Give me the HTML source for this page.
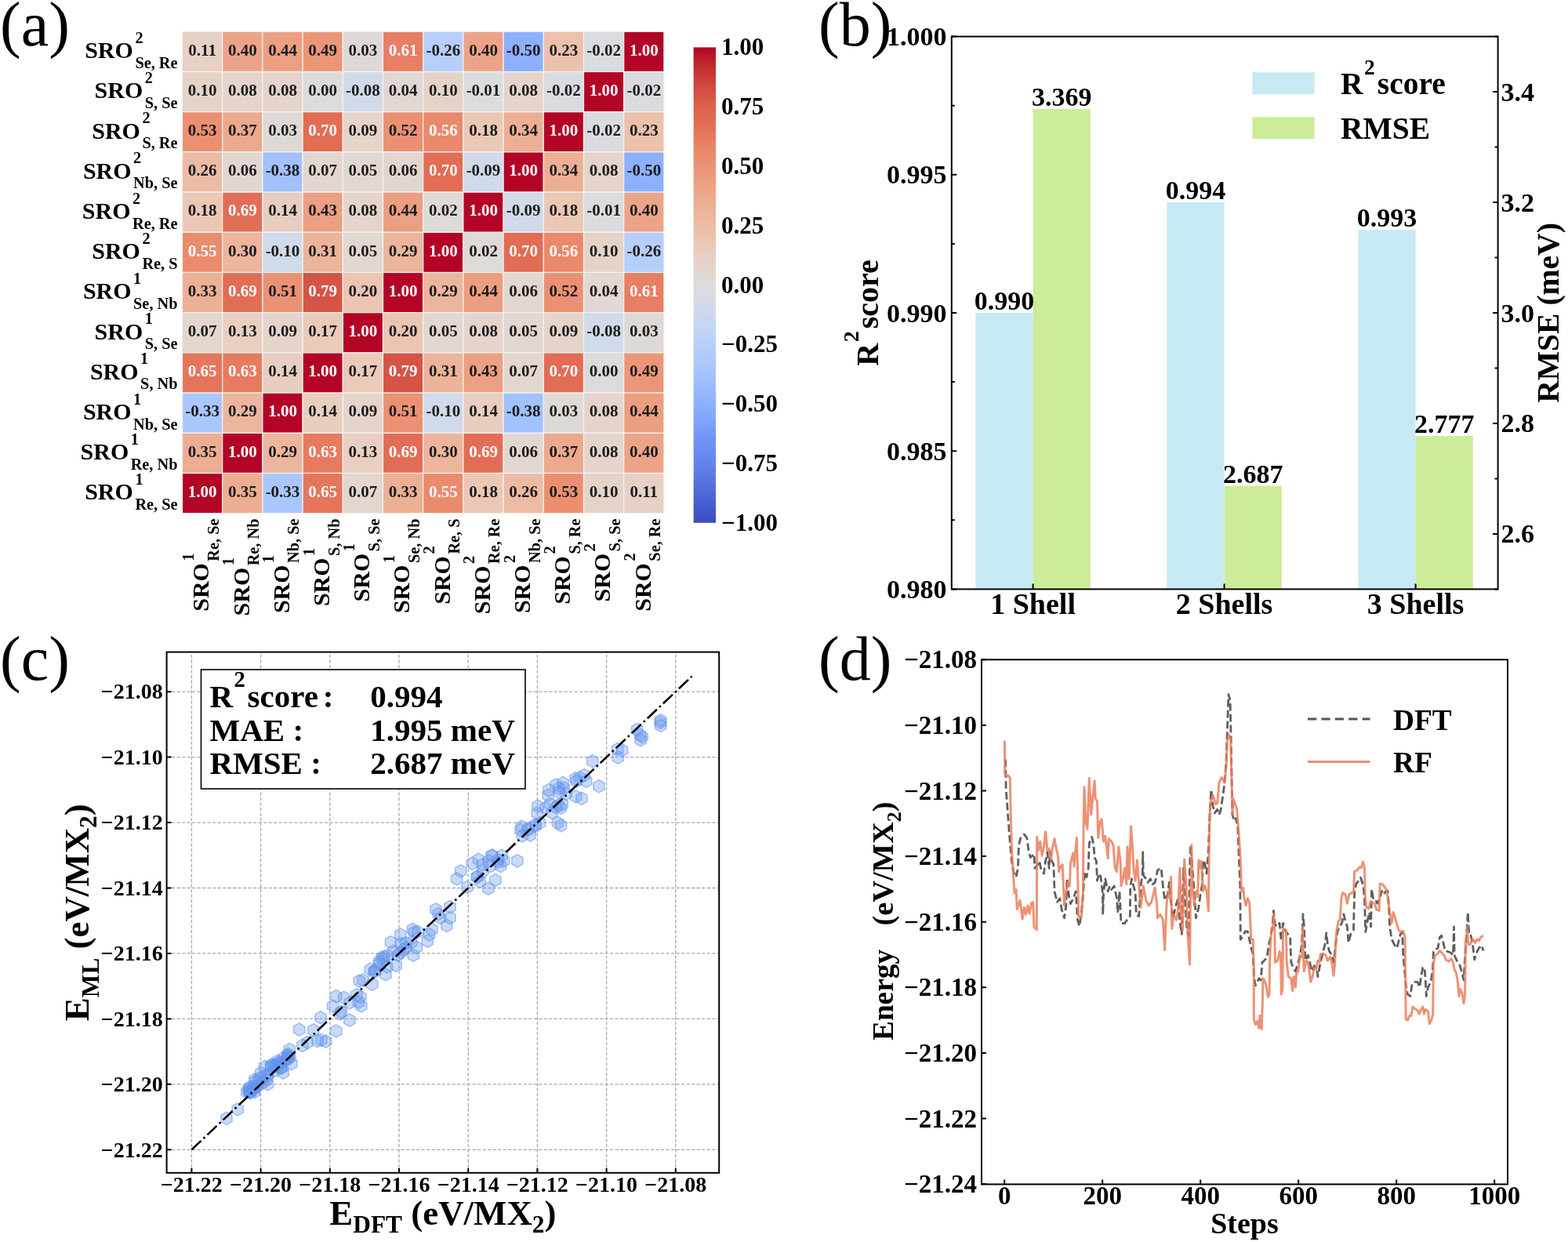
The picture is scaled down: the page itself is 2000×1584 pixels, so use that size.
<!DOCTYPE html>
<html lang="en"><head><meta charset="utf-8"><title>Figure</title>
<style>
html,body{margin:0;padding:0;background:#fff;}
body{width:2000px;height:1584px;overflow:hidden;}
svg{display:block;font-family:"Liberation Serif",serif;font-weight:bold;fill:#000;}
</style></head><body>
<svg width="2000" height="1584" viewBox="0 0 2000 1584">
<rect x="0" y="0" width="2000" height="1584" fill="#ffffff"/>
<g id="pa">
<text x="0" y="58" font-size="80" font-weight="normal">(a)</text>
<g stroke="#f4f1ee" stroke-width="1.2">
<rect x="232.5" y="40.3" width="51.2" height="51.2" fill="#e7d1c5"/>
<rect x="283.7" y="40.3" width="51.2" height="51.2" fill="#eca488"/>
<rect x="334.9" y="40.3" width="51.2" height="51.2" fill="#ec9e80"/>
<rect x="386.1" y="40.3" width="51.2" height="51.2" fill="#ec9678"/>
<rect x="437.3" y="40.3" width="51.2" height="51.2" fill="#dfd9d6"/>
<rect x="488.5" y="40.3" width="51.2" height="51.2" fill="#e87e63"/>
<rect x="539.7" y="40.3" width="51.2" height="51.2" fill="#b6cefa"/>
<rect x="590.9" y="40.3" width="51.2" height="51.2" fill="#eca488"/>
<rect x="642.1" y="40.3" width="51.2" height="51.2" fill="#8db0fe"/>
<rect x="693.3" y="40.3" width="51.2" height="51.2" fill="#ecc0ab"/>
<rect x="744.5" y="40.3" width="51.2" height="51.2" fill="#d9dbdf"/>
<rect x="795.7" y="40.3" width="51.2" height="51.2" fill="#b40426"/>
<rect x="232.5" y="91.5" width="51.2" height="51.2" fill="#e6d3c8"/>
<rect x="283.7" y="91.5" width="51.2" height="51.2" fill="#e5d4cb"/>
<rect x="334.9" y="91.5" width="51.2" height="51.2" fill="#e5d4cb"/>
<rect x="386.1" y="91.5" width="51.2" height="51.2" fill="#dcdbdb"/>
<rect x="437.3" y="91.5" width="51.2" height="51.2" fill="#d1dae8"/>
<rect x="488.5" y="91.5" width="51.2" height="51.2" fill="#e1d8d3"/>
<rect x="539.7" y="91.5" width="51.2" height="51.2" fill="#e6d3c8"/>
<rect x="590.9" y="91.5" width="51.2" height="51.2" fill="#dadcde"/>
<rect x="642.1" y="91.5" width="51.2" height="51.2" fill="#e5d4cb"/>
<rect x="693.3" y="91.5" width="51.2" height="51.2" fill="#d9dbdf"/>
<rect x="744.5" y="91.5" width="51.2" height="51.2" fill="#b40426"/>
<rect x="795.7" y="91.5" width="51.2" height="51.2" fill="#d9dbdf"/>
<rect x="232.5" y="142.7" width="51.2" height="51.2" fill="#eb8f71"/>
<rect x="283.7" y="142.7" width="51.2" height="51.2" fill="#eca98e"/>
<rect x="334.9" y="142.7" width="51.2" height="51.2" fill="#dfd9d6"/>
<rect x="386.1" y="142.7" width="51.2" height="51.2" fill="#e26c54"/>
<rect x="437.3" y="142.7" width="51.2" height="51.2" fill="#e5d4ca"/>
<rect x="488.5" y="142.7" width="51.2" height="51.2" fill="#eb9073"/>
<rect x="539.7" y="142.7" width="51.2" height="51.2" fill="#ea896c"/>
<rect x="590.9" y="142.7" width="51.2" height="51.2" fill="#ebc8b6"/>
<rect x="642.1" y="142.7" width="51.2" height="51.2" fill="#ecaf94"/>
<rect x="693.3" y="142.7" width="51.2" height="51.2" fill="#b40426"/>
<rect x="744.5" y="142.7" width="51.2" height="51.2" fill="#d9dbdf"/>
<rect x="795.7" y="142.7" width="51.2" height="51.2" fill="#ecc0ab"/>
<rect x="232.5" y="193.9" width="51.2" height="51.2" fill="#ecbba4"/>
<rect x="283.7" y="193.9" width="51.2" height="51.2" fill="#e2d7d0"/>
<rect x="334.9" y="193.9" width="51.2" height="51.2" fill="#a2c1ff"/>
<rect x="386.1" y="193.9" width="51.2" height="51.2" fill="#e3d6cf"/>
<rect x="437.3" y="193.9" width="51.2" height="51.2" fill="#e2d8d2"/>
<rect x="488.5" y="193.9" width="51.2" height="51.2" fill="#e2d7d0"/>
<rect x="539.7" y="193.9" width="51.2" height="51.2" fill="#e26c54"/>
<rect x="590.9" y="193.9" width="51.2" height="51.2" fill="#d0dae9"/>
<rect x="642.1" y="193.9" width="51.2" height="51.2" fill="#b40426"/>
<rect x="693.3" y="193.9" width="51.2" height="51.2" fill="#ecaf94"/>
<rect x="744.5" y="193.9" width="51.2" height="51.2" fill="#e5d4cb"/>
<rect x="795.7" y="193.9" width="51.2" height="51.2" fill="#8db0fe"/>
<rect x="232.5" y="245.1" width="51.2" height="51.2" fill="#ebc8b6"/>
<rect x="283.7" y="245.1" width="51.2" height="51.2" fill="#e26d56"/>
<rect x="334.9" y="245.1" width="51.2" height="51.2" fill="#e8cec0"/>
<rect x="386.1" y="245.1" width="51.2" height="51.2" fill="#ec9f82"/>
<rect x="437.3" y="245.1" width="51.2" height="51.2" fill="#e5d4cb"/>
<rect x="488.5" y="245.1" width="51.2" height="51.2" fill="#ec9e80"/>
<rect x="539.7" y="245.1" width="51.2" height="51.2" fill="#dedad8"/>
<rect x="590.9" y="245.1" width="51.2" height="51.2" fill="#b40426"/>
<rect x="642.1" y="245.1" width="51.2" height="51.2" fill="#d0dae9"/>
<rect x="693.3" y="245.1" width="51.2" height="51.2" fill="#ebc8b6"/>
<rect x="744.5" y="245.1" width="51.2" height="51.2" fill="#dadcde"/>
<rect x="795.7" y="245.1" width="51.2" height="51.2" fill="#eca488"/>
<rect x="232.5" y="296.3" width="51.2" height="51.2" fill="#ea8b6d"/>
<rect x="283.7" y="296.3" width="51.2" height="51.2" fill="#ecb59c"/>
<rect x="334.9" y="296.3" width="51.2" height="51.2" fill="#cfdaea"/>
<rect x="386.1" y="296.3" width="51.2" height="51.2" fill="#ecb49a"/>
<rect x="437.3" y="296.3" width="51.2" height="51.2" fill="#e2d8d2"/>
<rect x="488.5" y="296.3" width="51.2" height="51.2" fill="#ecb69e"/>
<rect x="539.7" y="296.3" width="51.2" height="51.2" fill="#b40426"/>
<rect x="590.9" y="296.3" width="51.2" height="51.2" fill="#dedad8"/>
<rect x="642.1" y="296.3" width="51.2" height="51.2" fill="#e26c54"/>
<rect x="693.3" y="296.3" width="51.2" height="51.2" fill="#ea896c"/>
<rect x="744.5" y="296.3" width="51.2" height="51.2" fill="#e6d3c8"/>
<rect x="795.7" y="296.3" width="51.2" height="51.2" fill="#b6cefa"/>
<rect x="232.5" y="347.5" width="51.2" height="51.2" fill="#ecb095"/>
<rect x="283.7" y="347.5" width="51.2" height="51.2" fill="#e26d56"/>
<rect x="334.9" y="347.5" width="51.2" height="51.2" fill="#eb9274"/>
<rect x="386.1" y="347.5" width="51.2" height="51.2" fill="#d65445"/>
<rect x="437.3" y="347.5" width="51.2" height="51.2" fill="#ebc5b2"/>
<rect x="488.5" y="347.5" width="51.2" height="51.2" fill="#b40426"/>
<rect x="539.7" y="347.5" width="51.2" height="51.2" fill="#ecb69e"/>
<rect x="590.9" y="347.5" width="51.2" height="51.2" fill="#ec9e80"/>
<rect x="642.1" y="347.5" width="51.2" height="51.2" fill="#e2d7d0"/>
<rect x="693.3" y="347.5" width="51.2" height="51.2" fill="#eb9073"/>
<rect x="744.5" y="347.5" width="51.2" height="51.2" fill="#e1d8d3"/>
<rect x="795.7" y="347.5" width="51.2" height="51.2" fill="#e87e63"/>
<rect x="232.5" y="398.7" width="51.2" height="51.2" fill="#e3d6cf"/>
<rect x="283.7" y="398.7" width="51.2" height="51.2" fill="#e8cfc1"/>
<rect x="334.9" y="398.7" width="51.2" height="51.2" fill="#e5d4ca"/>
<rect x="386.1" y="398.7" width="51.2" height="51.2" fill="#eacab9"/>
<rect x="437.3" y="398.7" width="51.2" height="51.2" fill="#b40426"/>
<rect x="488.5" y="398.7" width="51.2" height="51.2" fill="#ebc5b2"/>
<rect x="539.7" y="398.7" width="51.2" height="51.2" fill="#e2d8d2"/>
<rect x="590.9" y="398.7" width="51.2" height="51.2" fill="#e5d4cb"/>
<rect x="642.1" y="398.7" width="51.2" height="51.2" fill="#e2d8d2"/>
<rect x="693.3" y="398.7" width="51.2" height="51.2" fill="#e5d4ca"/>
<rect x="744.5" y="398.7" width="51.2" height="51.2" fill="#d1dae8"/>
<rect x="795.7" y="398.7" width="51.2" height="51.2" fill="#dfd9d6"/>
<rect x="232.5" y="449.9" width="51.2" height="51.2" fill="#e5765c"/>
<rect x="283.7" y="449.9" width="51.2" height="51.2" fill="#e77b60"/>
<rect x="334.9" y="449.9" width="51.2" height="51.2" fill="#e8cec0"/>
<rect x="386.1" y="449.9" width="51.2" height="51.2" fill="#b40426"/>
<rect x="437.3" y="449.9" width="51.2" height="51.2" fill="#eacab9"/>
<rect x="488.5" y="449.9" width="51.2" height="51.2" fill="#d65445"/>
<rect x="539.7" y="449.9" width="51.2" height="51.2" fill="#ecb49a"/>
<rect x="590.9" y="449.9" width="51.2" height="51.2" fill="#ec9f82"/>
<rect x="642.1" y="449.9" width="51.2" height="51.2" fill="#e3d6cf"/>
<rect x="693.3" y="449.9" width="51.2" height="51.2" fill="#e26c54"/>
<rect x="744.5" y="449.9" width="51.2" height="51.2" fill="#dcdbdb"/>
<rect x="795.7" y="449.9" width="51.2" height="51.2" fill="#ec9678"/>
<rect x="232.5" y="501.1" width="51.2" height="51.2" fill="#aac7fd"/>
<rect x="283.7" y="501.1" width="51.2" height="51.2" fill="#ecb69e"/>
<rect x="334.9" y="501.1" width="51.2" height="51.2" fill="#b40426"/>
<rect x="386.1" y="501.1" width="51.2" height="51.2" fill="#e8cec0"/>
<rect x="437.3" y="501.1" width="51.2" height="51.2" fill="#e5d4ca"/>
<rect x="488.5" y="501.1" width="51.2" height="51.2" fill="#eb9274"/>
<rect x="539.7" y="501.1" width="51.2" height="51.2" fill="#cfdaea"/>
<rect x="590.9" y="501.1" width="51.2" height="51.2" fill="#e8cec0"/>
<rect x="642.1" y="501.1" width="51.2" height="51.2" fill="#a2c1ff"/>
<rect x="693.3" y="501.1" width="51.2" height="51.2" fill="#dfd9d6"/>
<rect x="744.5" y="501.1" width="51.2" height="51.2" fill="#e5d4cb"/>
<rect x="795.7" y="501.1" width="51.2" height="51.2" fill="#ec9e80"/>
<rect x="232.5" y="552.3" width="51.2" height="51.2" fill="#ecad92"/>
<rect x="283.7" y="552.3" width="51.2" height="51.2" fill="#b40426"/>
<rect x="334.9" y="552.3" width="51.2" height="51.2" fill="#ecb69e"/>
<rect x="386.1" y="552.3" width="51.2" height="51.2" fill="#e77b60"/>
<rect x="437.3" y="552.3" width="51.2" height="51.2" fill="#e8cfc1"/>
<rect x="488.5" y="552.3" width="51.2" height="51.2" fill="#e26d56"/>
<rect x="539.7" y="552.3" width="51.2" height="51.2" fill="#ecb59c"/>
<rect x="590.9" y="552.3" width="51.2" height="51.2" fill="#e26d56"/>
<rect x="642.1" y="552.3" width="51.2" height="51.2" fill="#e2d7d0"/>
<rect x="693.3" y="552.3" width="51.2" height="51.2" fill="#eca98e"/>
<rect x="744.5" y="552.3" width="51.2" height="51.2" fill="#e5d4cb"/>
<rect x="795.7" y="552.3" width="51.2" height="51.2" fill="#eca488"/>
<rect x="232.5" y="603.5" width="51.2" height="51.2" fill="#b40426"/>
<rect x="283.7" y="603.5" width="51.2" height="51.2" fill="#ecad92"/>
<rect x="334.9" y="603.5" width="51.2" height="51.2" fill="#aac7fd"/>
<rect x="386.1" y="603.5" width="51.2" height="51.2" fill="#e5765c"/>
<rect x="437.3" y="603.5" width="51.2" height="51.2" fill="#e3d6cf"/>
<rect x="488.5" y="603.5" width="51.2" height="51.2" fill="#ecb095"/>
<rect x="539.7" y="603.5" width="51.2" height="51.2" fill="#ea8b6d"/>
<rect x="590.9" y="603.5" width="51.2" height="51.2" fill="#ebc8b6"/>
<rect x="642.1" y="603.5" width="51.2" height="51.2" fill="#ecbba4"/>
<rect x="693.3" y="603.5" width="51.2" height="51.2" fill="#eb8f71"/>
<rect x="744.5" y="603.5" width="51.2" height="51.2" fill="#e6d3c8"/>
<rect x="795.7" y="603.5" width="51.2" height="51.2" fill="#e7d1c5"/>
</g>
<g font-size="21" text-anchor="middle">
<text x="258.1" y="70.6" fill="#1a1a1a">0.11</text>
<text x="309.3" y="70.6" fill="#1a1a1a">0.40</text>
<text x="360.5" y="70.6" fill="#1a1a1a">0.44</text>
<text x="411.7" y="70.6" fill="#1a1a1a">0.49</text>
<text x="462.9" y="70.6" fill="#1a1a1a">0.03</text>
<text x="514.1" y="70.6" fill="#ffffff">0.61</text>
<text x="565.3" y="70.6" fill="#1a1a1a">-0.26</text>
<text x="616.5" y="70.6" fill="#1a1a1a">0.40</text>
<text x="667.7" y="70.6" fill="#1a1a1a">-0.50</text>
<text x="718.9" y="70.6" fill="#1a1a1a">0.23</text>
<text x="770.1" y="70.6" fill="#1a1a1a">-0.02</text>
<text x="821.3" y="70.6" fill="#ffffff">1.00</text>
<text x="258.1" y="121.8" fill="#1a1a1a">0.10</text>
<text x="309.3" y="121.8" fill="#1a1a1a">0.08</text>
<text x="360.5" y="121.8" fill="#1a1a1a">0.08</text>
<text x="411.7" y="121.8" fill="#1a1a1a">0.00</text>
<text x="462.9" y="121.8" fill="#1a1a1a">-0.08</text>
<text x="514.1" y="121.8" fill="#1a1a1a">0.04</text>
<text x="565.3" y="121.8" fill="#1a1a1a">0.10</text>
<text x="616.5" y="121.8" fill="#1a1a1a">-0.01</text>
<text x="667.7" y="121.8" fill="#1a1a1a">0.08</text>
<text x="718.9" y="121.8" fill="#1a1a1a">-0.02</text>
<text x="770.1" y="121.8" fill="#ffffff">1.00</text>
<text x="821.3" y="121.8" fill="#1a1a1a">-0.02</text>
<text x="258.1" y="173" fill="#1a1a1a">0.53</text>
<text x="309.3" y="173" fill="#1a1a1a">0.37</text>
<text x="360.5" y="173" fill="#1a1a1a">0.03</text>
<text x="411.7" y="173" fill="#ffffff">0.70</text>
<text x="462.9" y="173" fill="#1a1a1a">0.09</text>
<text x="514.1" y="173" fill="#1a1a1a">0.52</text>
<text x="565.3" y="173" fill="#ffffff">0.56</text>
<text x="616.5" y="173" fill="#1a1a1a">0.18</text>
<text x="667.7" y="173" fill="#1a1a1a">0.34</text>
<text x="718.9" y="173" fill="#ffffff">1.00</text>
<text x="770.1" y="173" fill="#1a1a1a">-0.02</text>
<text x="821.3" y="173" fill="#1a1a1a">0.23</text>
<text x="258.1" y="224.2" fill="#1a1a1a">0.26</text>
<text x="309.3" y="224.2" fill="#1a1a1a">0.06</text>
<text x="360.5" y="224.2" fill="#1a1a1a">-0.38</text>
<text x="411.7" y="224.2" fill="#1a1a1a">0.07</text>
<text x="462.9" y="224.2" fill="#1a1a1a">0.05</text>
<text x="514.1" y="224.2" fill="#1a1a1a">0.06</text>
<text x="565.3" y="224.2" fill="#ffffff">0.70</text>
<text x="616.5" y="224.2" fill="#1a1a1a">-0.09</text>
<text x="667.7" y="224.2" fill="#ffffff">1.00</text>
<text x="718.9" y="224.2" fill="#1a1a1a">0.34</text>
<text x="770.1" y="224.2" fill="#1a1a1a">0.08</text>
<text x="821.3" y="224.2" fill="#1a1a1a">-0.50</text>
<text x="258.1" y="275.4" fill="#1a1a1a">0.18</text>
<text x="309.3" y="275.4" fill="#ffffff">0.69</text>
<text x="360.5" y="275.4" fill="#1a1a1a">0.14</text>
<text x="411.7" y="275.4" fill="#1a1a1a">0.43</text>
<text x="462.9" y="275.4" fill="#1a1a1a">0.08</text>
<text x="514.1" y="275.4" fill="#1a1a1a">0.44</text>
<text x="565.3" y="275.4" fill="#1a1a1a">0.02</text>
<text x="616.5" y="275.4" fill="#ffffff">1.00</text>
<text x="667.7" y="275.4" fill="#1a1a1a">-0.09</text>
<text x="718.9" y="275.4" fill="#1a1a1a">0.18</text>
<text x="770.1" y="275.4" fill="#1a1a1a">-0.01</text>
<text x="821.3" y="275.4" fill="#1a1a1a">0.40</text>
<text x="258.1" y="326.6" fill="#ffffff">0.55</text>
<text x="309.3" y="326.6" fill="#1a1a1a">0.30</text>
<text x="360.5" y="326.6" fill="#1a1a1a">-0.10</text>
<text x="411.7" y="326.6" fill="#1a1a1a">0.31</text>
<text x="462.9" y="326.6" fill="#1a1a1a">0.05</text>
<text x="514.1" y="326.6" fill="#1a1a1a">0.29</text>
<text x="565.3" y="326.6" fill="#ffffff">1.00</text>
<text x="616.5" y="326.6" fill="#1a1a1a">0.02</text>
<text x="667.7" y="326.6" fill="#ffffff">0.70</text>
<text x="718.9" y="326.6" fill="#ffffff">0.56</text>
<text x="770.1" y="326.6" fill="#1a1a1a">0.10</text>
<text x="821.3" y="326.6" fill="#1a1a1a">-0.26</text>
<text x="258.1" y="377.8" fill="#1a1a1a">0.33</text>
<text x="309.3" y="377.8" fill="#ffffff">0.69</text>
<text x="360.5" y="377.8" fill="#1a1a1a">0.51</text>
<text x="411.7" y="377.8" fill="#ffffff">0.79</text>
<text x="462.9" y="377.8" fill="#1a1a1a">0.20</text>
<text x="514.1" y="377.8" fill="#ffffff">1.00</text>
<text x="565.3" y="377.8" fill="#1a1a1a">0.29</text>
<text x="616.5" y="377.8" fill="#1a1a1a">0.44</text>
<text x="667.7" y="377.8" fill="#1a1a1a">0.06</text>
<text x="718.9" y="377.8" fill="#1a1a1a">0.52</text>
<text x="770.1" y="377.8" fill="#1a1a1a">0.04</text>
<text x="821.3" y="377.8" fill="#ffffff">0.61</text>
<text x="258.1" y="429" fill="#1a1a1a">0.07</text>
<text x="309.3" y="429" fill="#1a1a1a">0.13</text>
<text x="360.5" y="429" fill="#1a1a1a">0.09</text>
<text x="411.7" y="429" fill="#1a1a1a">0.17</text>
<text x="462.9" y="429" fill="#ffffff">1.00</text>
<text x="514.1" y="429" fill="#1a1a1a">0.20</text>
<text x="565.3" y="429" fill="#1a1a1a">0.05</text>
<text x="616.5" y="429" fill="#1a1a1a">0.08</text>
<text x="667.7" y="429" fill="#1a1a1a">0.05</text>
<text x="718.9" y="429" fill="#1a1a1a">0.09</text>
<text x="770.1" y="429" fill="#1a1a1a">-0.08</text>
<text x="821.3" y="429" fill="#1a1a1a">0.03</text>
<text x="258.1" y="480.2" fill="#ffffff">0.65</text>
<text x="309.3" y="480.2" fill="#ffffff">0.63</text>
<text x="360.5" y="480.2" fill="#1a1a1a">0.14</text>
<text x="411.7" y="480.2" fill="#ffffff">1.00</text>
<text x="462.9" y="480.2" fill="#1a1a1a">0.17</text>
<text x="514.1" y="480.2" fill="#ffffff">0.79</text>
<text x="565.3" y="480.2" fill="#1a1a1a">0.31</text>
<text x="616.5" y="480.2" fill="#1a1a1a">0.43</text>
<text x="667.7" y="480.2" fill="#1a1a1a">0.07</text>
<text x="718.9" y="480.2" fill="#ffffff">0.70</text>
<text x="770.1" y="480.2" fill="#1a1a1a">0.00</text>
<text x="821.3" y="480.2" fill="#1a1a1a">0.49</text>
<text x="258.1" y="531.4" fill="#1a1a1a">-0.33</text>
<text x="309.3" y="531.4" fill="#1a1a1a">0.29</text>
<text x="360.5" y="531.4" fill="#ffffff">1.00</text>
<text x="411.7" y="531.4" fill="#1a1a1a">0.14</text>
<text x="462.9" y="531.4" fill="#1a1a1a">0.09</text>
<text x="514.1" y="531.4" fill="#1a1a1a">0.51</text>
<text x="565.3" y="531.4" fill="#1a1a1a">-0.10</text>
<text x="616.5" y="531.4" fill="#1a1a1a">0.14</text>
<text x="667.7" y="531.4" fill="#1a1a1a">-0.38</text>
<text x="718.9" y="531.4" fill="#1a1a1a">0.03</text>
<text x="770.1" y="531.4" fill="#1a1a1a">0.08</text>
<text x="821.3" y="531.4" fill="#1a1a1a">0.44</text>
<text x="258.1" y="582.6" fill="#1a1a1a">0.35</text>
<text x="309.3" y="582.6" fill="#ffffff">1.00</text>
<text x="360.5" y="582.6" fill="#1a1a1a">0.29</text>
<text x="411.7" y="582.6" fill="#ffffff">0.63</text>
<text x="462.9" y="582.6" fill="#1a1a1a">0.13</text>
<text x="514.1" y="582.6" fill="#ffffff">0.69</text>
<text x="565.3" y="582.6" fill="#1a1a1a">0.30</text>
<text x="616.5" y="582.6" fill="#ffffff">0.69</text>
<text x="667.7" y="582.6" fill="#1a1a1a">0.06</text>
<text x="718.9" y="582.6" fill="#1a1a1a">0.37</text>
<text x="770.1" y="582.6" fill="#1a1a1a">0.08</text>
<text x="821.3" y="582.6" fill="#1a1a1a">0.40</text>
<text x="258.1" y="633.8" fill="#ffffff">1.00</text>
<text x="309.3" y="633.8" fill="#1a1a1a">0.35</text>
<text x="360.5" y="633.8" fill="#1a1a1a">-0.33</text>
<text x="411.7" y="633.8" fill="#ffffff">0.65</text>
<text x="462.9" y="633.8" fill="#1a1a1a">0.07</text>
<text x="514.1" y="633.8" fill="#1a1a1a">0.33</text>
<text x="565.3" y="633.8" fill="#ffffff">0.55</text>
<text x="616.5" y="633.8" fill="#1a1a1a">0.18</text>
<text x="667.7" y="633.8" fill="#1a1a1a">0.26</text>
<text x="718.9" y="633.8" fill="#1a1a1a">0.53</text>
<text x="770.1" y="633.8" fill="#1a1a1a">0.10</text>
<text x="821.3" y="633.8" fill="#1a1a1a">0.11</text>
</g>
<text x="108.2" y="74.15" font-size="30">SRO<tspan font-size="20.3" dx="2.5" dy="-19.3">2</tspan><tspan font-size="20.3" x="172.38" dy="32">Se, Re</tspan></text>
<text x="120.58" y="125.35" font-size="30">SRO<tspan font-size="20.3" dx="2.5" dy="-19.3">2</tspan><tspan font-size="20.3" x="184.76" dy="32">S, Se</tspan></text>
<text x="117.21" y="176.55" font-size="30">SRO<tspan font-size="20.3" dx="2.5" dy="-19.3">2</tspan><tspan font-size="20.3" x="181.39" dy="32">S, Re</tspan></text>
<text x="105.92" y="227.75" font-size="30">SRO<tspan font-size="20.3" dx="2.5" dy="-19.3">2</tspan><tspan font-size="20.3" x="170.1" dy="32">Nb, Se</tspan></text>
<text x="104.83" y="278.95" font-size="30">SRO<tspan font-size="20.3" dx="2.5" dy="-19.3">2</tspan><tspan font-size="20.3" x="169.01" dy="32">Re, Re</tspan></text>
<text x="117.21" y="330.15" font-size="30">SRO<tspan font-size="20.3" dx="2.5" dy="-19.3">2</tspan><tspan font-size="20.3" x="181.39" dy="32">Re, S</tspan></text>
<text x="105.92" y="381.35" font-size="30">SRO<tspan font-size="20.3" dx="2.5" dy="-19.3">1</tspan><tspan font-size="20.3" x="170.1" dy="32">Se, Nb</tspan></text>
<text x="120.58" y="432.55" font-size="30">SRO<tspan font-size="20.3" dx="2.5" dy="-19.3">1</tspan><tspan font-size="20.3" x="184.76" dy="32">S, Se</tspan></text>
<text x="114.93" y="483.75" font-size="30">SRO<tspan font-size="20.3" dx="2.5" dy="-19.3">1</tspan><tspan font-size="20.3" x="179.11" dy="32">S, Nb</tspan></text>
<text x="105.92" y="534.95" font-size="30">SRO<tspan font-size="20.3" dx="2.5" dy="-19.3">1</tspan><tspan font-size="20.3" x="170.1" dy="32">Nb, Se</tspan></text>
<text x="102.55" y="586.15" font-size="30">SRO<tspan font-size="20.3" dx="2.5" dy="-19.3">1</tspan><tspan font-size="20.3" x="166.73" dy="32">Re, Nb</tspan></text>
<text x="108.2" y="637.35" font-size="30">SRO<tspan font-size="20.3" dx="2.5" dy="-19.3">1</tspan><tspan font-size="20.3" x="172.38" dy="32">Re, Se</tspan></text>
<g transform="translate(266.35 779.8) rotate(-90)"><text x="0" y="0" font-size="30">SRO<tspan font-size="20.3" dx="2.5" dy="-19.3">1</tspan><tspan font-size="20.3" x="64.18" dy="32">Re, Se</tspan></text></g>
<g transform="translate(317.55 785.45) rotate(-90)"><text x="0" y="0" font-size="30">SRO<tspan font-size="20.3" dx="2.5" dy="-19.3">1</tspan><tspan font-size="20.3" x="64.18" dy="32">Re, Nb</tspan></text></g>
<g transform="translate(368.75 782.08) rotate(-90)"><text x="0" y="0" font-size="30">SRO<tspan font-size="20.3" dx="2.5" dy="-19.3">1</tspan><tspan font-size="20.3" x="64.18" dy="32">Nb, Se</tspan></text></g>
<g transform="translate(419.95 773.07) rotate(-90)"><text x="0" y="0" font-size="30">SRO<tspan font-size="20.3" dx="2.5" dy="-19.3">1</tspan><tspan font-size="20.3" x="64.18" dy="32">S, Nb</tspan></text></g>
<g transform="translate(471.15 767.42) rotate(-90)"><text x="0" y="0" font-size="30">SRO<tspan font-size="20.3" dx="2.5" dy="-19.3">1</tspan><tspan font-size="20.3" x="64.18" dy="32">S, Se</tspan></text></g>
<g transform="translate(522.35 782.08) rotate(-90)"><text x="0" y="0" font-size="30">SRO<tspan font-size="20.3" dx="2.5" dy="-19.3">1</tspan><tspan font-size="20.3" x="64.18" dy="32">Se, Nb</tspan></text></g>
<g transform="translate(573.55 770.79) rotate(-90)"><text x="0" y="0" font-size="30">SRO<tspan font-size="20.3" dx="2.5" dy="-19.3">2</tspan><tspan font-size="20.3" x="64.18" dy="32">Re, S</tspan></text></g>
<g transform="translate(624.75 783.17) rotate(-90)"><text x="0" y="0" font-size="30">SRO<tspan font-size="20.3" dx="2.5" dy="-19.3">2</tspan><tspan font-size="20.3" x="64.18" dy="32">Re, Re</tspan></text></g>
<g transform="translate(675.95 782.08) rotate(-90)"><text x="0" y="0" font-size="30">SRO<tspan font-size="20.3" dx="2.5" dy="-19.3">2</tspan><tspan font-size="20.3" x="64.18" dy="32">Nb, Se</tspan></text></g>
<g transform="translate(727.15 770.79) rotate(-90)"><text x="0" y="0" font-size="30">SRO<tspan font-size="20.3" dx="2.5" dy="-19.3">2</tspan><tspan font-size="20.3" x="64.18" dy="32">S, Re</tspan></text></g>
<g transform="translate(778.35 767.42) rotate(-90)"><text x="0" y="0" font-size="30">SRO<tspan font-size="20.3" dx="2.5" dy="-19.3">2</tspan><tspan font-size="20.3" x="64.18" dy="32">S, Se</tspan></text></g>
<g transform="translate(829.55 779.8) rotate(-90)"><text x="0" y="0" font-size="30">SRO<tspan font-size="20.3" dx="2.5" dy="-19.3">2</tspan><tspan font-size="20.3" x="64.18" dy="32">Se, Re</tspan></text></g>
<defs><linearGradient id="cw" x1="0" y1="0" x2="0" y2="1"><stop offset="0" stop-color="#b40426"/><stop offset="0.03" stop-color="#be242e"/><stop offset="0.06" stop-color="#c93b37"/><stop offset="0.09" stop-color="#d34e41"/><stop offset="0.12" stop-color="#dc5e4b"/><stop offset="0.16" stop-color="#e26d56"/><stop offset="0.19" stop-color="#e77b60"/><stop offset="0.22" stop-color="#ea886b"/><stop offset="0.25" stop-color="#eb9375"/><stop offset="0.28" stop-color="#ec9e80"/><stop offset="0.31" stop-color="#eca88c"/><stop offset="0.34" stop-color="#ecb399"/><stop offset="0.38" stop-color="#ecbda6"/><stop offset="0.41" stop-color="#ebc7b4"/><stop offset="0.44" stop-color="#e8cfc2"/><stop offset="0.47" stop-color="#e3d6cf"/><stop offset="0.5" stop-color="#dcdbdb"/><stop offset="0.53" stop-color="#d5dbe5"/><stop offset="0.56" stop-color="#ccd9ed"/><stop offset="0.59" stop-color="#c3d5f4"/><stop offset="0.62" stop-color="#b9d0f9"/><stop offset="0.66" stop-color="#aec9fc"/><stop offset="0.69" stop-color="#a3c2fe"/><stop offset="0.72" stop-color="#98b9ff"/><stop offset="0.75" stop-color="#8db0fe"/><stop offset="0.78" stop-color="#82a6fb"/><stop offset="0.81" stop-color="#779af7"/><stop offset="0.84" stop-color="#6c8ff1"/><stop offset="0.88" stop-color="#6282ea"/><stop offset="0.91" stop-color="#5875e1"/><stop offset="0.94" stop-color="#4e68d8"/><stop offset="0.97" stop-color="#445acc"/><stop offset="1" stop-color="#3b4cc0"/></linearGradient></defs>
<rect x="884.6" y="60.4" width="28.4" height="606.4" fill="url(#cw)"/>
<g font-size="31">
<text x="920" y="70.4">1.00</text>
<text x="920" y="146.2">0.75</text>
<text x="920" y="222">0.50</text>
<text x="920" y="297.8">0.25</text>
<text x="920" y="373.6">0.00</text>
<text x="920" y="449.4">−0.25</text>
<text x="920" y="525.2">−0.50</text>
<text x="920" y="601">−0.75</text>
<text x="920" y="676.8">−1.00</text>
</g>
</g>
<g id="pb">
<text x="1044" y="58" font-size="80" font-weight="normal">(b)</text>
<rect x="1244.4" y="399" width="73.2" height="352.4" fill="#c5eaf3"/>
<rect x="1317.6" y="138.93" width="73.2" height="612.47" fill="#ccec99"/>
<rect x="1488.4" y="258.04" width="73.2" height="493.36" fill="#c5eaf3"/>
<rect x="1561.6" y="619.6" width="73.2" height="131.8" fill="#ccec99"/>
<rect x="1732.4" y="293.28" width="73.2" height="458.12" fill="#c5eaf3"/>
<rect x="1805.6" y="556.17" width="73.2" height="195.23" fill="#ccec99"/>
<g font-size="34" text-anchor="middle">
<text x="1281" y="395">0.990</text>
<text x="1354.2" y="134.93">3.369</text>
<text x="1525" y="254.04">0.994</text>
<text x="1598.2" y="615.6">2.687</text>
<text x="1769" y="289.28">0.993</text>
<text x="1842.2" y="552.17">2.777</text>
</g>
<rect x="1213.8" y="46.6" width="696.8" height="704.8" fill="none" stroke="#000" stroke-width="2"/>
<path d="M1213.8 751.4h6.5M1213.8 575.2h6.5M1213.8 399h6.5M1213.8 222.8h6.5M1213.8 46.6h6.5M1213.8 663.3h4M1213.8 487.1h4M1213.8 310.9h4M1213.8 134.7h4M1910.6 680.92h-6.5M1910.6 539.96h-6.5M1910.6 399h-6.5M1910.6 258.04h-6.5M1910.6 117.08h-6.5M1910.6 751.4h-4M1910.6 610.44h-4M1910.6 469.48h-4M1910.6 328.52h-4M1910.6 187.56h-4M1910.6 46.6h-4M1317.6 751.4v-7M1561.6 751.4v-7M1805.6 751.4v-7" stroke="#000" stroke-width="2" fill="none"/>
<g font-size="34" text-anchor="end">
<text x="1207.5" y="762.9">0.980</text>
<text x="1207.5" y="586.7">0.985</text>
<text x="1207.5" y="410.5">0.990</text>
<text x="1207.5" y="234.3">0.995</text>
<text x="1207.5" y="58.1">1.000</text>
</g><g font-size="34">
<text x="1914.5" y="692.42">2.6</text>
<text x="1914.5" y="551.46">2.8</text>
<text x="1914.5" y="410.5">3.0</text>
<text x="1914.5" y="269.54">3.2</text>
<text x="1914.5" y="128.58">3.4</text>
</g><g font-size="38" text-anchor="middle">
<text x="1317.6" y="783">1 Shell</text>
<text x="1561.6" y="783">2 Shells</text>
<text x="1805.6" y="783">3 Shells</text>
</g>
<g transform="translate(1119.7 399) rotate(-90)"><text x="-67.75" y="0" font-size="40">R<tspan font-size="28" dx="1.5" dy="-25">2</tspan><tspan dx="3" dy="25">score</tspan></text></g>
<g transform="translate(1988.4 399) rotate(-90)"><text x="0" y="0" font-size="39.6" text-anchor="middle">RMSE (meV)</text></g>
<rect x="1597.4" y="92.2" width="79.2" height="27.9" fill="#c5eaf3"/>
<rect x="1597.4" y="149.2" width="79.2" height="27.9" fill="#ccec99"/>
<text x="1710" y="120" font-size="39.5">R<tspan font-size="27.6" dx="1.5" dy="-25.3">2</tspan><tspan dx="3" dy="25.3">score</tspan></text>
<text x="1710" y="177.3" font-size="39.5">RMSE</text>
</g>
<g id="pc">
<text x="0" y="866.6" font-size="80" font-weight="normal">(c)</text>
<path d="M244.4 1495.8V831.6M212.6 1466.3H917.2M332.6 1495.8V831.6M212.6 1382.85H917.2M420.8 1495.8V831.6M212.6 1299.4H917.2M509 1495.8V831.6M212.6 1215.95H917.2M597.2 1495.8V831.6M212.6 1132.5H917.2M685.4 1495.8V831.6M212.6 1049.05H917.2M773.6 1495.8V831.6M212.6 965.6H917.2M861.8 1495.8V831.6M212.6 882.15H917.2" stroke="#a9a9a9" stroke-width="1.3" stroke-dasharray="4.2 2.3" fill="none"/>
<g fill="#6495ed" fill-opacity="0.35" stroke="#6495ed" stroke-opacity="0.55" stroke-width="1.5">
<path d="M288.93 1418.08L281.83 1422.18L281.83 1430.38L288.93 1434.48L296.03 1430.38L296.03 1422.18Z"/>
<path d="M303.21 1406.59L296.11 1410.69L296.11 1418.89L303.21 1422.99L310.31 1418.89L310.31 1410.69Z"/>
<path d="M314.65 1384.61L307.55 1388.71L307.55 1396.91L314.65 1401.01L321.75 1396.91L321.75 1388.71Z"/>
<path d="M317.06 1380.67L309.96 1384.77L309.96 1392.97L317.06 1397.07L324.16 1392.97L324.16 1384.77Z"/>
<path d="M317.43 1383.05L310.33 1387.15L310.33 1395.35L317.43 1399.45L324.53 1395.35L324.53 1387.15Z"/>
<path d="M318.27 1384.54L311.17 1388.64L311.17 1396.84L318.27 1400.94L325.37 1396.84L325.37 1388.64Z"/>
<path d="M318.74 1385.08L311.64 1389.18L311.64 1397.38L318.74 1401.48L325.84 1397.38L325.84 1389.18Z"/>
<path d="M318.83 1378.26L311.73 1382.36L311.73 1390.56L318.83 1394.66L325.93 1390.56L325.93 1382.36Z"/>
<path d="M319.48 1384.92L312.38 1389.02L312.38 1397.22L319.48 1401.32L326.58 1397.22L326.58 1389.02Z"/>
<path d="M320.35 1381.06L313.25 1385.16L313.25 1393.36L320.35 1397.46L327.45 1393.36L327.45 1385.16Z"/>
<path d="M322.38 1380.8L315.28 1384.9L315.28 1393.1L322.38 1397.2L329.48 1393.1L329.48 1384.9Z"/>
<path d="M323.2 1377.75L316.1 1381.85L316.1 1390.05L323.2 1394.15L330.3 1390.05L330.3 1381.85Z"/>
<path d="M324.31 1379.79L317.21 1383.89L317.21 1392.09L324.31 1396.19L331.41 1392.09L331.41 1383.89Z"/>
<path d="M324.5 1380.71L317.4 1384.81L317.4 1393.01L324.5 1397.11L331.6 1393.01L331.6 1384.81Z"/>
<path d="M324.68 1384.23L317.58 1388.33L317.58 1396.53L324.68 1400.63L331.78 1396.53L331.78 1388.33Z"/>
<path d="M324.86 1368.76L317.76 1372.86L317.76 1381.06L324.86 1385.16L331.96 1381.06L331.96 1372.86Z"/>
<path d="M326.18 1371.17L319.08 1375.27L319.08 1383.47L326.18 1387.57L333.29 1383.47L333.29 1375.27Z"/>
<path d="M328.16 1376.98L321.06 1381.08L321.06 1389.28L328.16 1393.38L335.26 1389.28L335.26 1381.08Z"/>
<path d="M329.74 1369.71L322.64 1373.81L322.64 1382.01L329.74 1386.11L336.84 1382.01L336.84 1373.81Z"/>
<path d="M331.6 1366.38L324.5 1370.48L324.5 1378.68L331.6 1382.78L338.7 1378.68L338.7 1370.48Z"/>
<path d="M332.57 1374.16L325.47 1378.26L325.47 1386.46L332.57 1390.56L339.67 1386.46L339.67 1378.26Z"/>
<path d="M332.74 1360.24L325.64 1364.34L325.64 1372.54L332.74 1376.64L339.84 1372.54L339.84 1364.34Z"/>
<path d="M335.95 1371.69L328.85 1375.79L328.85 1383.99L335.95 1388.09L343.05 1383.99L343.05 1375.79Z"/>
<path d="M337.35 1352.43L330.25 1356.53L330.25 1364.73L337.35 1368.83L344.45 1364.73L344.45 1356.53Z"/>
<path d="M337.8 1364.27L330.7 1368.37L330.7 1376.57L337.8 1380.67L344.91 1376.57L344.91 1368.37Z"/>
<path d="M340.09 1368.37L332.99 1372.47L332.99 1380.67L340.09 1384.77L347.19 1380.67L347.19 1372.47Z"/>
<path d="M340.97 1362.81L333.87 1366.91L333.87 1375.11L340.97 1379.21L348.07 1375.11L348.07 1366.91Z"/>
<path d="M341.45 1374.59L334.35 1378.69L334.35 1386.89L341.45 1390.99L348.55 1386.89L348.55 1378.69Z"/>
<path d="M341.83 1363.37L334.73 1367.47L334.73 1375.67L341.83 1379.77L348.93 1375.67L348.93 1367.47Z"/>
<path d="M345.68 1351.83L338.58 1355.93L338.58 1364.13L345.68 1368.23L352.78 1364.13L352.78 1355.93Z"/>
<path d="M345.84 1349.94L338.73 1354.04L338.73 1362.24L345.84 1366.34L352.94 1362.24L352.94 1354.04Z"/>
<path d="M348.85 1352.42L341.75 1356.52L341.75 1364.72L348.85 1368.82L355.95 1364.72L355.95 1356.52Z"/>
<path d="M349.08 1350.67L341.98 1354.77L341.98 1362.97L349.08 1367.07L356.19 1362.97L356.19 1354.77Z"/>
<path d="M350.85 1357.09L343.75 1361.19L343.75 1369.39L350.85 1373.49L357.95 1369.39L357.95 1361.19Z"/>
<path d="M352 1350.06L344.9 1354.16L344.9 1362.36L352 1366.46L359.1 1362.36L359.1 1354.16Z"/>
<path d="M354.08 1351.87L346.97 1355.97L346.97 1364.17L354.08 1368.27L361.18 1364.17L361.18 1355.97Z"/>
<path d="M354.2 1344.87L347.1 1348.97L347.1 1357.17L354.2 1361.27L361.3 1357.17L361.3 1348.97Z"/>
<path d="M354.74 1347.27L347.64 1351.37L347.64 1359.57L354.74 1363.67L361.84 1359.57L361.84 1351.37Z"/>
<path d="M355.73 1347.76L348.62 1351.86L348.62 1360.06L355.73 1364.16L362.83 1360.06L362.83 1351.86Z"/>
<path d="M357.78 1353.92L350.68 1358.02L350.68 1366.22L357.78 1370.32L364.89 1366.22L364.89 1358.02Z"/>
<path d="M357.98 1347.55L350.88 1351.65L350.88 1359.85L357.98 1363.95L365.08 1359.85L365.08 1351.65Z"/>
<path d="M358.03 1352.91L350.93 1357.01L350.93 1365.21L358.03 1369.31L365.14 1365.21L365.14 1357.01Z"/>
<path d="M359.89 1353.56L352.79 1357.66L352.79 1365.86L359.89 1369.96L366.99 1365.86L366.99 1357.66Z"/>
<path d="M361.15 1359.82L354.04 1363.92L354.04 1372.12L361.15 1376.22L368.25 1372.12L368.25 1363.92Z"/>
<path d="M362.8 1340.61L355.7 1344.71L355.7 1352.91L362.8 1357.01L369.9 1352.91L369.9 1344.71Z"/>
<path d="M364.8 1343.77L357.7 1347.87L357.7 1356.07L364.8 1360.17L371.9 1356.07L371.9 1347.87Z"/>
<path d="M365.67 1343.27L358.57 1347.37L358.57 1355.57L365.67 1359.67L372.77 1355.57L372.77 1347.37Z"/>
<path d="M367.08 1337.84L359.98 1341.94L359.98 1350.14L367.08 1354.24L374.18 1350.14L374.18 1341.94Z"/>
<path d="M367.18 1338.85L360.08 1342.95L360.08 1351.15L367.18 1355.25L374.28 1351.15L374.28 1342.95Z"/>
<path d="M367.35 1336.1L360.24 1340.2L360.24 1348.4L367.35 1352.5L374.45 1348.4L374.45 1340.2Z"/>
<path d="M368.12 1341.04L361.02 1345.14L361.02 1353.34L368.12 1357.44L375.22 1353.34L375.22 1345.14Z"/>
<path d="M369.35 1330.27L362.25 1334.37L362.25 1342.57L369.35 1346.67L376.45 1342.57L376.45 1334.37Z"/>
<path d="M369.84 1340.14L362.74 1344.24L362.74 1352.44L369.84 1356.54L376.94 1352.44L376.94 1344.24Z"/>
<path d="M371.81 1348.33L364.71 1352.43L364.71 1360.63L371.81 1364.73L378.91 1360.63L378.91 1352.43Z"/>
<path d="M381.66 1304.83L374.56 1308.93L374.56 1317.13L381.66 1321.23L388.76 1317.13L388.76 1308.93Z"/>
<path d="M385.76 1325.35L378.66 1329.45L378.66 1337.65L385.76 1341.75L392.87 1337.65L392.87 1329.45Z"/>
<path d="M392.33 1321.25L385.23 1325.35L385.23 1333.55L392.33 1337.65L399.43 1333.55L399.43 1325.35Z"/>
<path d="M399.71 1305.66L392.61 1309.76L392.61 1317.96L399.71 1322.06L406.82 1317.96L406.82 1309.76Z"/>
<path d="M404.92 1319.11L397.82 1323.21L397.82 1331.41L404.92 1335.51L412.03 1331.41L412.03 1323.21Z"/>
<path d="M409.03 1289.57L401.93 1293.67L401.93 1301.87L409.03 1305.97L416.13 1301.87L416.13 1293.67Z"/>
<path d="M409.85 1318.29L402.75 1322.39L402.75 1330.59L409.85 1334.69L416.95 1330.59L416.95 1322.39Z"/>
<path d="M415.59 1319.93L408.49 1324.03L408.49 1332.23L415.59 1336.33L422.69 1332.23L422.69 1324.03Z"/>
<path d="M424.62 1274.8L417.52 1278.9L417.52 1287.1L424.62 1291.2L431.72 1287.1L431.72 1278.9Z"/>
<path d="M428.72 1306.8L421.62 1310.9L421.62 1319.1L428.72 1323.2L435.82 1319.1L435.82 1310.9Z"/>
<path d="M428.72 1262.49L421.62 1266.59L421.62 1274.79L428.72 1278.89L435.82 1274.79L435.82 1266.59Z"/>
<path d="M433.65 1284.64L426.54 1288.74L426.54 1296.94L433.65 1301.04L440.75 1296.94L440.75 1288.74Z"/>
<path d="M435.29 1282.18L428.18 1286.28L428.18 1294.48L435.29 1298.58L442.39 1294.48L442.39 1286.28Z"/>
<path d="M438.57 1264.13L431.47 1268.23L431.47 1276.43L438.57 1280.53L445.67 1276.43L445.67 1268.23Z"/>
<path d="M445.95 1292.85L438.85 1296.95L438.85 1305.15L445.95 1309.25L453.06 1305.15L453.06 1296.95Z"/>
<path d="M445.95 1270.69L438.85 1274.79L438.85 1282.99L445.95 1287.09L453.06 1282.99L453.06 1274.79Z"/>
<path d="M454.98 1260.85L447.88 1264.95L447.88 1273.15L454.98 1277.25L462.08 1273.15L462.08 1264.95Z"/>
<path d="M457.44 1269.87L450.34 1273.97L450.34 1282.17L457.44 1286.27L464.54 1282.17L464.54 1273.97Z"/>
<path d="M458.26 1242.79L451.16 1246.89L451.16 1255.09L458.26 1259.19L465.36 1255.09L465.36 1246.89Z"/>
<path d="M459.9 1263.31L452.8 1267.41L452.8 1275.61L459.9 1279.71L467.01 1275.61L467.01 1267.41Z"/>
<path d="M460.73 1274.8L453.62 1278.9L453.62 1287.1L460.73 1291.2L467.83 1287.1L467.83 1278.9Z"/>
<path d="M463.19 1241.97L456.09 1246.07L456.09 1254.27L463.19 1258.37L470.29 1254.27L470.29 1246.07Z"/>
<path d="M472.21 1228.02L465.11 1232.12L465.11 1240.32L472.21 1244.42L479.32 1240.32L479.32 1232.12Z"/>
<path d="M474.68 1246.9L467.57 1251L467.57 1259.2L474.68 1263.3L481.78 1259.2L481.78 1251Z"/>
<path d="M477.14 1231.3L470.04 1235.4L470.04 1243.6L477.14 1247.7L484.24 1243.6L484.24 1235.4Z"/>
<path d="M477.79 1230.3L470.69 1234.4L470.69 1242.6L477.79 1246.7L484.89 1242.6L484.89 1234.4Z"/>
<path d="M479.15 1228.87L472.04 1232.97L472.04 1241.17L479.15 1245.27L486.25 1241.17L486.25 1232.97Z"/>
<path d="M483.33 1220.99L476.23 1225.09L476.23 1233.29L483.33 1237.39L490.43 1233.29L490.43 1225.09Z"/>
<path d="M483.7 1218.17L476.6 1222.27L476.6 1230.47L483.7 1234.57L490.8 1230.47L490.8 1222.27Z"/>
<path d="M486.99 1213.25L479.88 1217.35L479.88 1225.55L486.99 1229.65L494.09 1225.55L494.09 1217.35Z"/>
<path d="M488.76 1215.27L481.66 1219.37L481.66 1227.57L488.76 1231.67L495.86 1227.57L495.86 1219.37Z"/>
<path d="M490 1211.88L482.9 1215.98L482.9 1224.18L490 1228.28L497.1 1224.18L497.1 1215.98Z"/>
<path d="M491.91 1234.59L484.81 1238.69L484.81 1246.89L491.91 1250.99L499.01 1246.89L499.01 1238.69Z"/>
<path d="M493.55 1224.74L486.45 1228.84L486.45 1237.04L493.55 1241.14L500.65 1237.04L500.65 1228.84Z"/>
<path d="M494.4 1210.54L487.3 1214.64L487.3 1222.84L494.4 1226.94L501.51 1222.84L501.51 1214.64Z"/>
<path d="M498.47 1193.56L491.37 1197.66L491.37 1205.86L498.47 1209.96L505.58 1205.86L505.58 1197.66Z"/>
<path d="M501.76 1205.04L494.65 1209.14L494.65 1217.34L501.76 1221.44L508.86 1217.34L508.86 1209.14Z"/>
<path d="M505.04 1223.1L497.94 1227.2L497.94 1235.4L505.04 1239.5L512.14 1235.4L512.14 1227.2Z"/>
<path d="M507.5 1209.97L500.4 1214.07L500.4 1222.27L507.5 1226.37L514.6 1222.27L514.6 1214.07Z"/>
<path d="M510.64 1206.77L503.54 1210.87L503.54 1219.07L510.64 1223.17L517.74 1219.07L517.74 1210.87Z"/>
<path d="M510.78 1183.71L503.68 1187.81L503.68 1196.01L510.78 1200.11L517.88 1196.01L517.88 1187.81Z"/>
<path d="M511.14 1195.74L504.04 1199.84L504.04 1208.04L511.14 1212.14L518.24 1208.04L518.24 1199.84Z"/>
<path d="M514.89 1203.4L507.78 1207.5L507.78 1215.7L514.89 1219.8L521.99 1215.7L521.99 1207.5Z"/>
<path d="M517.72 1194.39L510.62 1198.49L510.62 1206.69L517.72 1210.79L524.82 1206.69L524.82 1198.49Z"/>
<path d="M518.17 1200.12L511.07 1204.22L511.07 1212.42L518.17 1216.52L525.27 1212.42L525.27 1204.22Z"/>
<path d="M524.73 1193.56L517.63 1197.66L517.63 1205.86L524.73 1209.96L531.83 1205.86L531.83 1197.66Z"/>
<path d="M526.37 1177.14L519.27 1181.24L519.27 1189.44L526.37 1193.54L533.48 1189.44L533.48 1181.24Z"/>
<path d="M527.2 1209.97L520.09 1214.07L520.09 1222.27L527.2 1226.37L534.3 1222.27L534.3 1214.07Z"/>
<path d="M528.4 1180.67L521.3 1184.77L521.3 1192.97L528.4 1197.07L535.5 1192.97L535.5 1184.77Z"/>
<path d="M531.3 1200.12L524.2 1204.22L524.2 1212.42L531.3 1216.52L538.4 1212.42L538.4 1204.22Z"/>
<path d="M532.94 1180.43L525.84 1184.53L525.84 1192.73L532.94 1196.83L540.04 1192.73L540.04 1184.53Z"/>
<path d="M545.25 1191.91L538.15 1196.01L538.15 1204.21L545.25 1208.31L552.35 1204.21L552.35 1196.01Z"/>
<path d="M547.71 1183.71L540.61 1187.81L540.61 1196.01L547.71 1200.11L554.81 1196.01L554.81 1187.81Z"/>
<path d="M550.99 1177.14L543.89 1181.24L543.89 1189.44L550.99 1193.54L558.09 1189.44L558.09 1181.24Z"/>
<path d="M555.92 1151.7L548.82 1155.8L548.82 1164L555.92 1168.1L563.02 1164L563.02 1155.8Z"/>
<path d="M559.2 1157.45L552.1 1161.55L552.1 1169.75L559.2 1173.85L566.3 1169.75L566.3 1161.55Z"/>
<path d="M561.66 1162.37L554.56 1166.47L554.56 1174.67L561.66 1178.77L568.76 1174.67L568.76 1166.47Z"/>
<path d="M569.87 1172.22L562.77 1176.32L562.77 1184.52L569.87 1188.62L576.97 1184.52L576.97 1176.32Z"/>
<path d="M573.97 1162.37L566.87 1166.47L566.87 1174.67L573.97 1178.77L581.07 1174.67L581.07 1166.47Z"/>
<path d="M573.97 1148.42L566.87 1152.52L566.87 1160.72L573.97 1164.82L581.07 1160.72L581.07 1152.52Z"/>
<path d="M582.67 1112.64L575.57 1116.74L575.57 1124.94L582.67 1129.04L589.77 1124.94L589.77 1116.74Z"/>
<path d="M587.6 1102.79L580.49 1106.89L580.49 1115.09L587.6 1119.19L594.7 1115.09L594.7 1106.89Z"/>
<path d="M595.8 1123.31L588.7 1127.41L588.7 1135.61L595.8 1139.71L602.9 1135.61L602.9 1127.41Z"/>
<path d="M602.37 1092.95L595.27 1097.05L595.27 1105.25L602.37 1109.35L609.47 1105.25L609.47 1097.05Z"/>
<path d="M608.11 1110.18L601.01 1114.28L601.01 1122.48L608.11 1126.58L615.21 1122.48L615.21 1114.28Z"/>
<path d="M609.32 1109.91L602.22 1114.01L602.22 1122.21L609.32 1126.31L616.42 1122.21L616.42 1114.01Z"/>
<path d="M610.57 1088.02L603.47 1092.12L603.47 1100.32L610.57 1104.42L617.67 1100.32L617.67 1092.12Z"/>
<path d="M612.21 1115.92L605.11 1120.02L605.11 1128.22L612.21 1132.32L619.32 1128.22L619.32 1120.02Z"/>
<path d="M615.5 1094.59L608.4 1098.69L608.4 1106.89L615.5 1110.99L622.6 1106.89L622.6 1098.69Z"/>
<path d="M615.72 1103.22L608.62 1107.32L608.62 1115.52L615.72 1119.62L622.82 1115.52L622.82 1107.32Z"/>
<path d="M622.88 1124.95L615.78 1129.05L615.78 1137.25L622.88 1141.35L629.98 1137.25L629.98 1129.05Z"/>
<path d="M623.27 1089.79L616.17 1093.89L616.17 1102.09L623.27 1106.19L630.37 1102.09L630.37 1093.89Z"/>
<path d="M625.34 1096.23L618.24 1100.33L618.24 1108.53L625.34 1112.63L632.45 1108.53L632.45 1100.33Z"/>
<path d="M626.99 1083.1L619.88 1087.2L619.88 1095.4L626.99 1099.5L634.09 1095.4L634.09 1087.2Z"/>
<path d="M628.02 1082.71L620.92 1086.81L620.92 1095.01L628.02 1099.11L635.12 1095.01L635.12 1086.81Z"/>
<path d="M631.91 1114.28L624.81 1118.38L624.81 1126.58L631.91 1130.68L639.01 1126.58L639.01 1118.38Z"/>
<path d="M635.19 1091.3L628.09 1095.4L628.09 1103.6L635.19 1107.7L642.29 1103.6L642.29 1095.4Z"/>
<path d="M635.41 1088.54L628.31 1092.64L628.31 1100.84L635.41 1104.94L642.51 1100.84L642.51 1092.64Z"/>
<path d="M638.47 1096.23L631.37 1100.33L631.37 1108.53L638.47 1112.63L645.58 1108.53L645.58 1100.33Z"/>
<path d="M640.11 1083.1L633.01 1087.2L633.01 1095.4L640.11 1099.5L647.22 1095.4L647.22 1087.2Z"/>
<path d="M642.58 1089.66L635.48 1093.76L635.48 1101.96L642.58 1106.06L649.68 1101.96L649.68 1093.76Z"/>
<path d="M659.81 1089.66L652.71 1093.76L652.71 1101.96L659.81 1106.06L666.91 1101.96L666.91 1093.76Z"/>
<path d="M663.93 1050.26L656.83 1054.36L656.83 1062.56L663.93 1066.66L671.03 1062.56L671.03 1054.36Z"/>
<path d="M665.55 1046.17L658.45 1050.27L658.45 1058.47L665.55 1062.57L672.66 1058.47L672.66 1050.27Z"/>
<path d="M666.37 1057.66L659.27 1061.76L659.27 1069.96L666.37 1074.06L673.48 1069.96L673.48 1061.76Z"/>
<path d="M673.28 1050.23L666.18 1054.33L666.18 1062.53L673.28 1066.63L680.38 1062.53L680.38 1054.33Z"/>
<path d="M674.58 1048.63L667.48 1052.73L667.48 1060.93L674.58 1065.03L681.68 1060.93L681.68 1052.73Z"/>
<path d="M676.22 1056.84L669.12 1060.94L669.12 1069.14L676.22 1073.24L683.32 1069.14L683.32 1060.94Z"/>
<path d="M682.73 1045.4L675.63 1049.5L675.63 1057.7L682.73 1061.8L689.83 1057.7L689.83 1049.5Z"/>
<path d="M682.79 1043.71L675.69 1047.81L675.69 1056.01L682.79 1060.11L689.89 1056.01L689.89 1047.81Z"/>
<path d="M685.25 1028.94L678.15 1033.04L678.15 1041.24L685.25 1045.34L692.35 1041.24L692.35 1033.04Z"/>
<path d="M686.07 1019.91L678.97 1024.01L678.97 1032.21L686.07 1036.31L693.17 1032.21L693.17 1024.01Z"/>
<path d="M688.53 1041.25L681.43 1045.35L681.43 1053.55L688.53 1057.65L695.63 1053.55L695.63 1045.35Z"/>
<path d="M695.81 1022.33L688.71 1026.43L688.71 1034.63L695.81 1038.73L702.91 1034.63L702.91 1026.43Z"/>
<path d="M699.2 1005.96L692.1 1010.06L692.1 1018.26L699.2 1022.36L706.3 1018.26L706.3 1010.06Z"/>
<path d="M700.02 999.4L692.92 1003.5L692.92 1011.7L700.02 1015.8L707.12 1011.7L707.12 1003.5Z"/>
<path d="M701.66 1017.45L694.56 1021.55L694.56 1029.75L701.66 1033.85L708.76 1029.75L708.76 1021.55Z"/>
<path d="M704.12 1028.12L697.02 1032.22L697.02 1040.42L704.12 1044.52L711.22 1040.42L711.22 1032.22Z"/>
<path d="M709.05 992.83L701.95 996.93L701.95 1005.13L709.05 1009.23L716.15 1005.13L716.15 996.93Z"/>
<path d="M709.07 1021.45L701.97 1025.55L701.97 1033.75L709.07 1037.85L716.17 1033.75L716.17 1025.55Z"/>
<path d="M711.51 1041.25L704.41 1045.35L704.41 1053.55L711.51 1057.65L718.61 1053.55L718.61 1045.35Z"/>
<path d="M711.89 1018.53L704.79 1022.63L704.79 1030.83L711.89 1034.93L718.99 1030.83L718.99 1022.63Z"/>
<path d="M712.74 997.36L705.64 1001.46L705.64 1009.66L712.74 1013.76L719.84 1009.66L719.84 1001.46Z"/>
<path d="M713.61 1002.06L706.5 1006.16L706.5 1014.36L713.61 1018.46L720.71 1014.36L720.71 1006.16Z"/>
<path d="M715.31 1022.1L708.21 1026.2L708.21 1034.4L715.31 1038.5L722.41 1034.4L722.41 1026.2Z"/>
<path d="M715.61 1044.53L708.51 1048.63L708.51 1056.83L715.61 1060.93L722.71 1056.83L722.71 1048.63Z"/>
<path d="M717.25 1017.45L710.15 1021.55L710.15 1029.75L717.25 1033.85L724.35 1029.75L724.35 1021.55Z"/>
<path d="M718.07 990.37L710.97 994.47L710.97 1002.67L718.07 1006.77L725.17 1002.67L725.17 994.47Z"/>
<path d="M719.25 997.01L712.15 1001.11L712.15 1009.31L719.25 1013.41L726.35 1009.31L726.35 1001.11Z"/>
<path d="M722.18 1004.32L715.07 1008.42L715.07 1016.62L722.18 1020.72L729.28 1016.62L729.28 1008.42Z"/>
<path d="M734.12 984.72L727.02 988.82L727.02 997.02L734.12 1001.12L741.23 997.02L741.23 988.82Z"/>
<path d="M734.49 1007.6L727.38 1011.7L727.38 1019.9L734.49 1024L741.59 1019.9L741.59 1011.7Z"/>
<path d="M735.31 987.91L728.2 992.01L728.2 1000.21L735.31 1004.31L742.41 1000.21L742.41 992.01Z"/>
<path d="M739.54 983.61L732.44 987.71L732.44 995.91L739.54 1000.01L746.64 995.91L746.64 987.71Z"/>
<path d="M741.87 1010.06L734.77 1014.16L734.77 1022.36L741.87 1026.46L748.97 1022.36L748.97 1014.16Z"/>
<path d="M745.15 980.52L738.05 984.62L738.05 992.82L745.15 996.92L752.25 992.82L752.25 984.62Z"/>
<path d="M747.62 987.91L740.51 992.01L740.51 1000.21L747.62 1004.31L754.72 1000.21L754.72 992.01Z"/>
<path d="M755.82 962.47L748.72 966.57L748.72 974.77L755.82 978.87L762.92 974.77L762.92 966.57Z"/>
<path d="M764.02 994.59L756.92 998.69L756.92 1006.89L764.02 1010.99L771.12 1006.89L771.12 998.69Z"/>
<path d="M787.65 947.33L780.55 951.43L780.55 959.63L787.65 963.73L794.76 959.63L794.76 951.43Z"/>
<path d="M788.31 957.83L781.21 961.93L781.21 970.13L788.31 974.23L795.41 970.13L795.41 961.93Z"/>
<path d="M793.56 948.64L786.46 952.74L786.46 960.94L793.56 965.04L800.66 960.94L800.66 952.74Z"/>
<path d="M812.6 922.39L805.5 926.49L805.5 934.69L812.6 938.79L819.7 934.69L819.7 926.49Z"/>
<path d="M816.54 928.95L809.44 933.05L809.44 941.25L816.54 945.35L823.64 941.25L823.64 933.05Z"/>
<path d="M817.19 935.52L810.09 939.62L810.09 947.82L817.19 951.92L824.29 947.82L824.29 939.62Z"/>
<path d="M819.16 931.58L812.06 935.68L812.06 943.88L819.16 947.98L826.26 943.88L826.26 935.68Z"/>
<path d="M842.14 913.2L835.04 917.3L835.04 925.5L842.14 929.6L849.24 925.5L849.24 917.3Z"/>
<path d="M842.79 910.57L835.69 914.67L835.69 922.87L842.79 926.97L849.9 922.87L849.9 914.67Z"/>
<path d="M842.79 917.14L835.69 921.24L835.69 929.44L842.79 933.54L849.9 929.44L849.9 921.24Z"/>
</g>
<path d="M244.4 1466.3L882.53 862.54" stroke="#000" stroke-width="2.6" stroke-dasharray="16.6 4.2 2.6 4.2" fill="none"/>
<rect x="212.6" y="831.6" width="704.6" height="664.2" fill="none" stroke="#000" stroke-width="2"/>
<path d="M244.4 1495.8v-6M212.6 1466.3h6M332.6 1495.8v-6M212.6 1382.85h6M420.8 1495.8v-6M212.6 1299.4h6M509 1495.8v-6M212.6 1215.95h6M597.2 1495.8v-6M212.6 1132.5h6M685.4 1495.8v-6M212.6 1049.05h6M773.6 1495.8v-6M212.6 965.6h6M861.8 1495.8v-6M212.6 882.15h6" stroke="#000" stroke-width="2" fill="none"/>
<g font-size="28" text-anchor="end">
<text x="207.8" y="1475.6">−21.22</text>
<text x="207.8" y="1392.15">−21.20</text>
<text x="207.8" y="1308.7">−21.18</text>
<text x="207.8" y="1225.25">−21.16</text>
<text x="207.8" y="1141.8">−21.14</text>
<text x="207.8" y="1058.35">−21.12</text>
<text x="207.8" y="974.9">−21.10</text>
<text x="207.8" y="891.45">−21.08</text>
</g><g font-size="28" text-anchor="middle">
<text x="244.4" y="1519.6">−21.22</text>
<text x="332.6" y="1519.6">−21.20</text>
<text x="420.8" y="1519.6">−21.18</text>
<text x="509" y="1519.6">−21.16</text>
<text x="597.2" y="1519.6">−21.14</text>
<text x="685.4" y="1519.6">−21.12</text>
<text x="773.6" y="1519.6">−21.10</text>
<text x="861.8" y="1519.6">−21.08</text>
</g>
<rect x="256.5" y="854" width="413.5" height="152" fill="#fff" stroke="#000" stroke-width="1.6"/>
<text x="267.5" y="901.8" font-size="41">R<tspan font-size="28.7" dx="1.5" dy="-25.5">2</tspan><tspan dx="2.6" dy="25.5">score</tspan><tspan dx="6">:</tspan></text>
<text x="267.5" y="944.7" font-size="41">MAE :</text>
<text x="267.5" y="987.4" font-size="41">RMSE :</text>
<text x="472.3" y="901.8" font-size="41">0.994</text>
<text x="472.3" y="944.7" font-size="41">1.995 meV</text>
<text x="472.3" y="987.4" font-size="41">2.687 meV</text>
<text x="420.29" y="1561.6" font-size="44.9">E<tspan font-size="31.4" dy="10.8">DFT</tspan><tspan dy="-10.8"> (eV/MX</tspan><tspan font-size="31.4" dy="10">2</tspan><tspan dy="-10">)</tspan></text>
<g transform="translate(113.4 1163.7) rotate(-90)"><text x="-138.5" y="0" font-size="44.9">E<tspan font-size="31.4" dy="12.6">ML</tspan><tspan dy="-12.6"> (eV/MX</tspan><tspan font-size="31.4" dy="9.5">2</tspan><tspan dy="-9.5">)</tspan></text></g>
</g>
<g id="pd">
<text x="1044" y="866.6" font-size="80" font-weight="normal">(d)</text>
<path d="M1282.5 968.6L1283.2 1007.3L1284.8 1027.7L1285.9 1043.6L1288.2 1073.2L1290.5 1098.2L1292.7 1111.8L1296.1 1118.6L1298.4 1107.3L1299.5 1077.7L1301.8 1068.6L1306.4 1064.1L1309.8 1068.6L1312.0 1084.5L1314.3 1093.6L1316.6 1091.4L1318.9 1089.1L1320.0 1107.3L1323.4 1102.7L1325.7 1098.2L1328.0 1109.5L1331.4 1114.1L1333.6 1098.2L1335.9 1086.8L1338.2 1107.3L1339.3 1085.7L1341.6 1098.2L1343.9 1102.7L1345.0 1136.8L1348.4 1150.5L1351.8 1145.9L1354.1 1159.5L1357.5 1170.9L1359.8 1155.0L1360.9 1120.9L1363.2 1141.4L1365.5 1152.7L1368.9 1145.9L1372.3 1136.8L1374.5 1173.2L1376.8 1181.1L1379.1 1166.4L1381.4 1141.4L1383.6 1111.8L1385.9 1118.6L1388.2 1107.3L1389.3 1075.5L1392.7 1067.5L1395.0 1077.7L1396.1 1093.6L1398.4 1098.2L1399.5 1123.2L1401.8 1114.1L1404.1 1118.6L1406.4 1139.1L1406.8 1166.4L1407.5 1139.1L1409.8 1120.9L1413.2 1136.8L1415.5 1130.0L1417.7 1134.5L1421.1 1130.0L1424.5 1145.9L1425.7 1164.1L1428.0 1136.8L1429.1 1159.5L1430.0 1177.7L1434.5 1177.7L1439.1 1170.9L1441.4 1168.6L1441.8 1130.0L1443.6 1120.9L1445.9 1130.0L1448.2 1139.1L1449.3 1166.4L1452.7 1168.6L1455.0 1130.0L1457.3 1114.1L1457.7 1086.8L1458.4 1116.4L1461.8 1120.9L1464.1 1125.5L1467.5 1120.9L1469.8 1127.7L1473.2 1125.5L1476.6 1109.5L1481.1 1107.3L1483.4 1130.0L1485.7 1148.2L1489.1 1141.4L1491.4 1125.5L1493.6 1150.5L1495.9 1170.9L1500.5 1152.7L1502.7 1145.9L1505.0 1175.5L1507.3 1191.4L1509.5 1107.3L1511.8 1152.7L1514.1 1186.8L1516.4 1193.6L1517.5 1107.3L1518.6 1078.9L1520.9 1107.3L1523.2 1136.8L1525.5 1170.9L1528.9 1157.3L1531.1 1141.4L1533.4 1127.7L1534.5 1097.0L1536.8 1101.6L1539.1 1114.1L1541.4 1084.5L1542.5 1050.5L1544.8 1007.3L1547.0 1027.7L1549.3 1036.8L1552.7 1032.3L1555.0 1039.1L1557.3 1032.3L1559.5 1016.4L1561.8 1000.5L1564.1 970.9L1565.9 916.4L1567.0 885.7L1569.1 893.6L1569.8 925.5L1570.9 982.3L1572.0 1039.1L1574.3 1047.0L1576.6 1043.6L1578.9 1057.3L1580.0 1084.5L1581.8 1130.0L1582.3 1198.2L1585.7 1193.6L1588.0 1188.0L1591.4 1188.0L1593.6 1198.2L1595.9 1209.5L1598.2 1216.4L1599.3 1239.1L1599.3 1245.5L1601.4 1256.8L1603.6 1252.3L1605.9 1247.7L1608.2 1250.0L1610.0 1227.3L1612.7 1225.0L1616.1 1220.5L1618.4 1204.5L1620.7 1195.5L1623.0 1181.8L1624.5 1161.4L1626.4 1179.5L1629.8 1181.8L1632.0 1177.3L1634.3 1200.0L1636.6 1177.3L1638.9 1186.4L1642.3 1190.9L1645.7 1195.5L1646.8 1227.3L1649.5 1234.1L1652.5 1238.6L1655.9 1227.3L1658.2 1218.2L1660.5 1204.5L1662.0 1165.9L1663.4 1181.8L1665.0 1225.0L1668.4 1218.2L1670.7 1227.3L1673.0 1238.6L1676.4 1231.8L1679.8 1236.4L1680.9 1245.5L1684.3 1227.3L1687.7 1213.6L1690.0 1204.5L1691.8 1189.8L1693.4 1204.5L1695.7 1213.6L1699.1 1218.2L1701.4 1227.3L1703.6 1204.5L1705.9 1188.6L1708.2 1181.8L1711.6 1177.3L1713.9 1165.9L1716.1 1175.0L1718.4 1181.8L1720.0 1202.3L1723.0 1190.9L1726.4 1186.4L1727.7 1136.4L1729.8 1127.3L1733.2 1122.7L1735.5 1119.3L1738.9 1129.5L1740.5 1147.7L1741.8 1188.6L1744.5 1172.7L1746.8 1163.6L1748.6 1181.8L1749.5 1134.1L1750.0 1136.4L1751.8 1147.7L1754.5 1147.7L1756.8 1152.3L1759.1 1147.7L1762.5 1136.4L1764.8 1140.9L1767.7 1136.4L1770.0 1136.4L1771.6 1159.1L1772.7 1181.8L1775.0 1197.7L1778.4 1204.5L1781.8 1209.1L1784.1 1200.0L1786.4 1190.9L1788.6 1188.6L1789.8 1218.2L1791.4 1236.4L1793.2 1256.8L1795.5 1268.2L1798.9 1270.5L1801.1 1254.5L1804.5 1252.3L1808.0 1252.3L1810.9 1259.1L1812.5 1245.5L1814.8 1234.1L1817.0 1234.1L1818.2 1250.0L1819.3 1270.5L1821.6 1259.1L1825.0 1252.3L1827.3 1238.6L1828.4 1213.6L1830.7 1211.4L1834.1 1209.1L1836.4 1195.5L1838.6 1193.2L1840.9 1202.3L1843.2 1212.5L1846.6 1213.6L1850.0 1214.8L1853.4 1218.2L1854.5 1181.8L1855.2 1218.2L1858.0 1225.0L1861.4 1229.5L1863.6 1236.4L1867.0 1250.0L1868.2 1227.3L1870.5 1193.2L1872.3 1163.6L1873.9 1193.2L1876.1 1193.2L1878.4 1204.5L1880.7 1223.9L1884.1 1213.6L1886.4 1209.1L1889.8 1205.7L1892.0 1212.5" stroke="#555555" stroke-width="2.8" stroke-dasharray="9.6 4.2" fill="none" stroke-linejoin="round" stroke-opacity="0.95"/>
<path d="M1281.4 944.8L1281.8 986.8L1283.6 990.2L1285.9 989.1L1288.2 991.4L1289.3 1039.1L1290.5 1084.5L1292.7 1118.6L1293.9 1139.1L1296.1 1134.5L1297.3 1159.5L1299.5 1152.7L1301.1 1148.2L1304.1 1172.0L1306.4 1157.3L1308.6 1166.4L1310.9 1155.0L1313.2 1165.2L1315.5 1151.6L1317.7 1150.5L1318.9 1182.3L1322.3 1185.7L1322.7 1067.5L1324.5 1084.5L1326.8 1073.2L1329.1 1091.4L1331.4 1080.0L1333.6 1060.7L1335.9 1084.5L1338.2 1082.3L1340.5 1095.9L1342.7 1080.0L1345.0 1069.8L1347.3 1082.3L1349.5 1091.4L1350.7 1111.8L1353.0 1105.0L1355.2 1102.7L1356.4 1130.0L1357.5 1155.0L1359.8 1136.8L1362.0 1125.5L1364.3 1130.0L1365.5 1100.5L1368.9 1088.0L1370.0 1105.0L1373.4 1068.6L1374.5 1107.3L1375.7 1168.6L1379.1 1170.9L1381.4 1141.4L1382.0 1057.3L1383.0 1003.9L1384.8 1048.2L1387.0 1057.3L1389.3 992.5L1391.6 1039.1L1393.9 1016.4L1396.1 995.9L1397.3 1018.6L1399.5 1022.0L1400.7 1068.6L1403.0 1048.2L1405.2 1044.8L1407.5 1073.2L1409.8 1066.4L1413.2 1094.8L1414.3 1069.8L1417.7 1073.2L1420.0 1077.7L1422.3 1107.3L1424.5 1111.8L1426.8 1080.0L1429.1 1098.2L1430.0 1130.0L1432.3 1120.9L1434.5 1107.3L1436.8 1127.7L1438.0 1080.0L1440.2 1120.9L1442.5 1053.9L1444.8 1084.5L1445.9 1107.3L1448.2 1123.2L1450.5 1097.0L1452.7 1127.7L1455.0 1157.3L1458.4 1130.0L1461.8 1148.2L1465.2 1155.0L1468.6 1150.5L1470.9 1141.4L1473.2 1132.3L1475.5 1152.7L1476.6 1170.9L1480.0 1166.4L1483.4 1173.2L1485.7 1211.8L1488.0 1152.7L1490.2 1136.8L1492.5 1145.9L1493.6 1118.6L1494.8 1184.5L1497.0 1166.4L1500.5 1173.2L1502.7 1159.5L1505.0 1107.3L1506.1 1164.1L1508.4 1186.8L1510.7 1095.9L1513.0 1130.0L1515.2 1193.6L1517.5 1230.0L1518.6 1141.4L1519.8 1077.7L1520.9 1130.0L1523.2 1155.0L1525.5 1136.8L1527.7 1143.6L1528.9 1097.0L1531.1 1107.3L1532.3 1098.2L1534.5 1136.8L1536.8 1130.0L1539.1 1136.8L1541.4 1161.8L1542.5 1061.8L1543.6 1025.5L1547.0 1014.1L1550.5 1025.5L1552.7 1024.3L1555.0 998.2L1558.4 991.4L1561.8 998.2L1564.1 977.7L1565.2 945.9L1567.5 936.8L1569.8 943.6L1570.9 993.6L1572.0 1039.1L1573.2 1018.6L1575.5 1025.5L1577.7 1032.3L1580.0 1061.8L1582.3 1095.9L1583.4 1136.8L1585.7 1132.3L1586.8 1143.6L1589.1 1155.0L1591.4 1145.9L1593.6 1150.5L1595.9 1198.2L1598.2 1198.2L1599.3 1239.1L1599.3 1300.0L1601.4 1306.8L1603.6 1302.3L1605.9 1311.4L1607.0 1295.5L1609.3 1312.5L1610.5 1272.7L1610.9 1247.7L1612.7 1250.0L1615.0 1256.8L1617.3 1271.6L1619.1 1268.2L1619.5 1227.3L1620.7 1200.0L1621.8 1184.1L1623.6 1184.1L1624.5 1165.9L1625.9 1186.4L1626.4 1227.3L1629.8 1225.0L1632.0 1213.6L1633.6 1215.9L1634.3 1268.2L1635.9 1261.4L1636.6 1184.1L1638.9 1186.4L1640.5 1186.4L1641.1 1227.3L1643.4 1245.5L1646.8 1247.7L1648.6 1263.6L1650.2 1245.5L1652.5 1259.1L1653.6 1240.9L1655.9 1238.6L1658.2 1218.2L1660.5 1220.5L1661.6 1181.8L1663.2 1238.6L1666.1 1225.0L1668.4 1227.3L1670.7 1243.2L1671.8 1252.3L1674.1 1245.5L1676.4 1234.1L1678.6 1236.4L1680.9 1225.0L1683.2 1227.3L1684.3 1217.0L1687.7 1215.9L1691.1 1218.2L1693.4 1225.0L1696.8 1220.5L1699.1 1229.5L1700.9 1244.3L1702.5 1231.8L1703.6 1204.5L1704.8 1188.6L1707.0 1175.0L1709.3 1172.7L1710.9 1145.5L1712.7 1138.6L1716.1 1140.9L1718.4 1152.3L1720.7 1140.9L1724.1 1138.6L1726.4 1137.5L1727.7 1111.4L1730.9 1110.2L1734.3 1105.7L1736.6 1106.8L1738.4 1098.9L1740.5 1106.8L1741.1 1140.9L1742.7 1156.8L1745.7 1159.1L1748.0 1150.0L1750.0 1151.1L1753.4 1152.3L1755.7 1160.2L1759.1 1161.4L1760.2 1127.3L1762.5 1127.3L1764.8 1129.5L1768.2 1134.1L1770.5 1145.5L1772.7 1163.6L1775.0 1177.3L1777.3 1163.6L1779.5 1170.5L1781.8 1179.5L1784.1 1186.4L1787.5 1188.6L1789.8 1187.5L1792.0 1195.5L1792.7 1250.0L1793.2 1300.0L1795.5 1301.1L1797.7 1295.5L1800.0 1295.5L1801.8 1284.1L1804.5 1286.4L1808.0 1288.6L1810.2 1293.2L1812.5 1287.5L1814.8 1284.1L1816.4 1293.2L1818.2 1287.5L1821.6 1289.8L1823.2 1305.7L1826.1 1300.0L1827.7 1293.2L1828.4 1227.3L1830.7 1218.2L1834.1 1215.9L1836.4 1212.5L1839.8 1215.9L1842.0 1218.2L1844.3 1223.9L1847.7 1226.1L1851.1 1222.7L1853.4 1227.3L1855.0 1236.4L1857.3 1240.9L1859.1 1250.0L1860.9 1270.5L1862.5 1261.4L1864.8 1265.9L1867.0 1279.5L1868.6 1268.2L1869.3 1204.5L1871.6 1181.8L1872.7 1204.5L1875.0 1204.5L1878.4 1197.7L1881.8 1202.3L1884.1 1197.7L1886.4 1200.0L1888.6 1195.5L1892.0 1193.2" stroke="#e87d5a" stroke-opacity="0.84" stroke-width="3" fill="none" stroke-linejoin="round"/>
<rect x="1252" y="841.3" width="671" height="669.1" fill="none" stroke="#000" stroke-width="2"/>
<path d="M1252 841.3h6M1252 924.9h6M1252 1008.5h6M1252 1092.1h6M1252 1175.7h6M1252 1259.3h6M1252 1342.9h6M1252 1426.5h6M1252 1510.1h6M1281.2 1510.4v-6M1406.2 1510.4v-6M1531.2 1510.4v-6M1656.2 1510.4v-6M1781.2 1510.4v-6M1906.2 1510.4v-6" stroke="#000" stroke-width="2" fill="none"/>
<g font-size="33" text-anchor="end">
<text x="1246" y="852.3">−21.08</text>
<text x="1246" y="935.9">−21.10</text>
<text x="1246" y="1019.5">−21.12</text>
<text x="1246" y="1103.1">−21.14</text>
<text x="1246" y="1186.7">−21.16</text>
<text x="1246" y="1270.3">−21.18</text>
<text x="1246" y="1353.9">−21.20</text>
<text x="1246" y="1437.5">−21.22</text>
<text x="1246" y="1521.1">−21.24</text>
</g><g font-size="33" text-anchor="middle">
<text x="1281.2" y="1535.6">0</text>
<text x="1406.2" y="1535.6">200</text>
<text x="1531.2" y="1535.6">400</text>
<text x="1656.2" y="1535.6">600</text>
<text x="1781.2" y="1535.6">800</text>
<text x="1906.2" y="1535.6">1000</text>
</g>
<text x="1587.5" y="1572.5" font-size="38" text-anchor="middle">Steps</text>
<g transform="translate(1138.9 0) rotate(-90)"><text x="-1327" y="0" font-size="37.3">Energy</text><text x="-1180.5" y="0" font-size="38.4">(eV/MX<tspan font-size="26" dy="10">2</tspan><tspan dy="-10">)</tspan></text></g>
<path d="M1668 917H1747.6" stroke="#555555" stroke-width="3" stroke-dasharray="11.3 6.1" fill="none"/>
<path d="M1668 971.4H1747.6" stroke="#e87d5a" stroke-opacity="0.85" stroke-width="3" fill="none"/>
<text x="1777" y="930.6" font-size="37.3">DFT</text>
<text x="1777" y="985" font-size="37.3">RF</text>
</g>
</svg></body></html>
